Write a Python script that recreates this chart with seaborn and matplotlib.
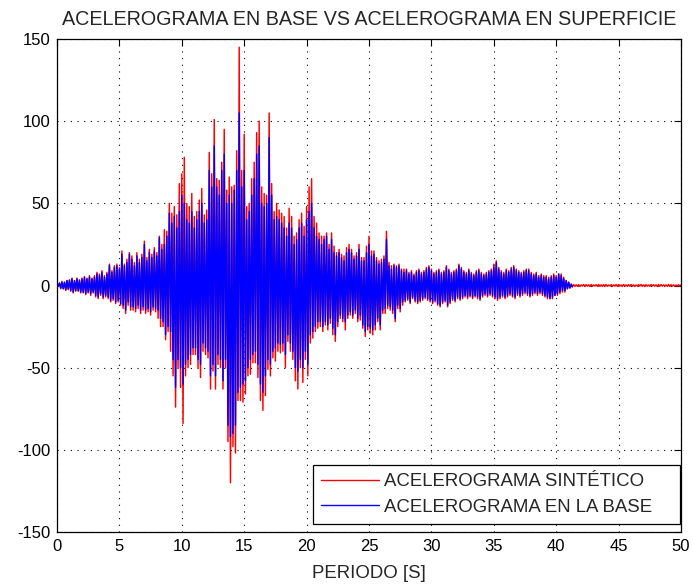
import numpy as np
import pandas as pd
import matplotlib
matplotlib.use("Agg")
import matplotlib.pyplot as plt
import seaborn as sns

# ---------------- data ----------------
half_step = 0.1  # seconds between a peak and the following trough

base_peaks = [
    0.5, 1.5, 2, 2, 3,
    3, 4, 3, 4, 3,
    4, 5, 4, 5, 4,
    5, 7, 6, 8, 5,
    7, 12, 8, 11, 12,
    10, 19, 12, 14, 19,
    16, 12, 18, 14, 17,
    25, 15, 20, 17, 21,
    18, 29, 22, 25, 30,
    44, 38, 42, 35, 45,
    55, 50, 40, 38, 45,
    35, 40, 45, 50, 38,
    40, 70, 60, 85, 60,
    55, 70, 80, 50, 55,
    50, 58, 70, 105, 60,
    70, 40, 45, 55, 65,
    80, 85, 50, 48, 50,
    90, 55, 40, 42, 40,
    38, 35, 30, 38, 35,
    25, 28, 35, 38, 30,
    40, 45, 50, 35, 30,
    28, 25, 28, 30, 22,
    28, 20, 18, 20, 17,
    15, 20, 22, 20, 16,
    18, 22, 15, 15, 20,
    25, 18, 19, 15, 13,
    14, 16, 28, 12, 10,
    12, 11, 12, 9, 8,
    9, 7, 8, 6, 8,
    9, 7, 8, 10, 11,
    9, 7, 8, 9, 7,
    8, 11, 9, 7, 8,
    9, 12, 10, 8, 7,
    9, 7, 6, 8, 9,
    7, 6, 7, 8, 9,
    11, 14, 10, 8, 7,
    9, 8, 10, 11, 9,
    8, 7, 8, 9, 9,
    7, 6, 7, 5, 6,
    5, 5, 4, 5, 6,
    5, 7, 6, 4, 3,
    2, 0.8,
]
base_troughs = [
    -0.5, -1.5, -2, -2.5, -2,
    -3, -4, -3, -3, -4,
    -4, -5, -4, -5, -4,
    -6, -7, -5, -7, -6,
    -7, -9, -8, -10, -9,
    -11, -12, -15, -10, -13,
    -13, -14, -12, -15, -13,
    -15, -14, -16, -13, -14,
    -15, -20, -22, -30, -25,
    -28, -45, -62, -45, -50,
    -60, -48, -45, -42, -38,
    -38, -45, -48, -35, -38,
    -40, -55, -48, -55, -42,
    -45, -58, -45, -85, -92,
    -90, -85, -65, -62, -60,
    -58, -50, -45, -42, -40,
    -48, -60, -65, -55, -45,
    -48, -40, -38, -35, -36,
    -35, -42, -30, -35, -40,
    -50, -52, -45, -50, -40,
    -48, -30, -28, -25, -22,
    -22, -25, -22, -24, -20,
    -26, -30, -22, -18, -20,
    -22, -18, -16, -18, -15,
    -20, -18, -24, -28, -25,
    -26, -27, -24, -20, -24,
    -15, -14, -12, -13, -15,
    -20, -12, -14, -10, -9,
    -8, -10, -7, -9, -10,
    -9, -8, -7, -8, -9,
    -10, -9, -11, -12, -10,
    -9, -12, -10, -8, -9,
    -7, -8, -7, -6, -7,
    -6, -7, -6, -7, -8,
    -6, -5, -6, -5, -6,
    -7, -8, -7, -6, -7,
    -6, -5, -6, -7, -5,
    -6, -5, -4, -5, -6,
    -5, -4, -5, -4, -5,
    -6, -7, -8, -7, -6,
    -5, -4, -3, -3, -2,
    -1.5, -0.8,
]

synth_peaks = [
    0.5, 1.5, 2.5, 2, 3,
    3.5, 4.5, 3, 4.5, 3.5,
    4.5, 5.5, 4.5, 6, 4.5,
    6, 8, 7, 9, 6,
    8, 13, 9, 12, 13,
    11, 21, 13, 16, 20,
    18, 14, 20, 16, 19,
    27, 17, 22, 19, 23,
    20, 30, 25, 34, 33,
    50, 44, 48, 43, 62,
    68, 78, 50, 48, 56,
    42, 45, 52, 59, 43,
    46, 81, 68, 101, 65,
    64, 75, 95, 58, 66,
    60, 61, 82, 145, 70,
    92, 48, 50, 65, 75,
    93, 100, 60, 56, 55,
    105, 62, 45, 50, 46,
    44, 42, 35, 47, 42,
    30, 32, 40, 44, 36,
    48, 60, 65, 42, 38,
    32, 30, 30, 32, 25,
    32, 24, 20, 22, 19,
    18, 23, 25, 22, 18,
    20, 25, 17, 17, 24,
    30, 21, 21, 17, 15,
    16, 18, 33, 14, 12,
    13, 12, 13, 10, 10,
    10, 8, 9, 7, 9,
    10, 8, 9, 11, 12,
    10, 8, 9, 10, 8,
    9, 12, 10, 8, 9,
    10, 13, 11, 9, 8,
    10, 8, 7, 9, 10,
    8, 7, 8, 9, 10,
    13, 15, 11, 9, 8,
    10, 9, 11, 12, 10,
    9, 8, 9, 10, 10,
    8, 7, 8, 6, 7,
    6, 6, 5, 6, 7,
    6, 7, 7, 5, 3,
    2, 0.8,
    0.6, 0.4, 0.5, 0.3, 0.6, 0.5, 0.4, 0.6, 0.3, 0.5, 0.6,
    0.4, 0.5, 0.6, 0.3, 0.5, 0.4, 0.6, 0.5, 0.3, 0.6, 0.4,
    0.5, 0.6, 0.4, 0.3, 0.5, 0.6, 0.4, 0.5, 0.3, 0.6, 0.5,
    0.4, 0.6, 0.5, 0.3, 0.4, 0.6, 0.5, 0.4, 0.3, 0.5, 0.4,
]
synth_troughs = [
    -0.5, -2, -2, -3, -2.5,
    -3.5, -4.5, -3.5, -3.5, -4.5,
    -4.5, -5.5, -4.5, -6, -4.5,
    -7, -8, -6, -8, -7,
    -8, -10, -9, -11, -10,
    -12, -14, -17, -12, -15,
    -15, -16, -14, -17, -15,
    -17, -16, -18, -15, -16,
    -20, -25, -25, -33, -28,
    -40, -55, -74, -50, -62,
    -84, -55, -50, -48, -42,
    -42, -50, -56, -40, -42,
    -44, -63, -52, -63, -48,
    -50, -63, -50, -95, -120,
    -98, -102, -70, -70, -71,
    -66, -55, -54, -47, -47,
    -56, -70, -76, -67, -51,
    -55, -44, -46, -40, -41,
    -40, -50, -34, -40, -45,
    -58, -63, -50, -59, -45,
    -55, -35, -32, -28, -26,
    -25, -28, -24, -27, -23,
    -30, -34, -25, -20, -22,
    -27, -20, -18, -20, -17,
    -22, -21, -26, -31, -27,
    -29, -30, -27, -22, -27,
    -17, -17, -14, -15, -17,
    -22, -14, -16, -12, -10,
    -9, -11, -8, -10, -11,
    -10, -9, -8, -9, -10,
    -11, -10, -12, -13, -11,
    -10, -13, -11, -9, -10,
    -8, -9, -8, -7, -8,
    -7, -8, -7, -8, -9,
    -7, -6, -7, -6, -7,
    -8, -9, -8, -7, -8,
    -7, -6, -7, -8, -6,
    -7, -6, -5, -6, -7,
    -6, -5, -6, -5, -6,
    -7, -8, -8, -8, -6,
    -6, -5, -4, -4, -2,
    -1.5, -0.8,
    -0.5, -0.4, -0.6, -0.3, -0.5, -0.4, -0.6, -0.5, -0.3, -0.4, -0.5,
    -0.6, -0.4, -0.5, -0.3, -0.6, -0.4, -0.5, -0.4, -0.6, -0.3, -0.5,
    -0.4, -0.5, -0.6, -0.3, -0.4, -0.5, -0.6, -0.4, -0.5, -0.3, -0.4,
    -0.6, -0.5, -0.4, -0.3, -0.5, -0.6, -0.4, -0.5, -0.3, -0.4, -0.5,
]

series_names = ["ACELEROGRAMA SINTÉTICO", "ACELEROGRAMA EN LA BASE"]
series_colors = ["#ff0000", "#0000ff"]
title_text = "ACELEROGRAMA EN BASE VS ACELEROGRAMA EN SUPERFICIE"
xlabel_text = "PERIODO [S]"
x_ticks = [0, 5, 10, 15, 20, 25, 30, 35, 40, 45, 50]
y_ticks = [-150, -100, -50, 0, 50, 100, 150]


def build(peaks, troughs, name):
    vals = np.column_stack([peaks, troughs]).ravel()
    t = np.arange(len(vals)) * half_step
    return pd.DataFrame({"t": t, "a": vals, "serie": name})


df = pd.concat([
    build(synth_peaks, synth_troughs, series_names[0]),
    build(base_peaks, base_troughs, series_names[1]),
], ignore_index=True)

# ---------------- plotting ----------------
sns.set_style("white")
plt.rcParams["font.family"] = ["Liberation Sans", "DejaVu Sans"]

fig = plt.figure(figsize=(6.93, 5.85), dpi=100)
ax = fig.add_axes([57 / 693, 1 - 532 / 585, (681 - 57) / 693, (532 - 39) / 585])

sns.lineplot(data=df, x="t", y="a", hue="serie", hue_order=series_names,
             palette=series_colors, estimator=None, sort=False,
             linewidth=1.05, ax=ax)

ax.set_xlim(0, 50)
ax.set_ylim(-150, 150)
ax.set_xticks(x_ticks)
ax.set_yticks(y_ticks)
ax.set_xticklabels([str(v) for v in x_ticks], fontsize=12)
ax.set_yticklabels([str(v) for v in y_ticks], fontsize=12)
ax.tick_params(direction="in", top=True, right=True, length=5, width=0.8,
               pad=5, colors="black")
ax.grid(True, color="black", linestyle=(0, (1, 5)), linewidth=0.8)
for s in ax.spines.values():
    s.set_color("black")
    s.set_linewidth(0.9)

ax.set_title(title_text, fontsize=14.2, pad=10)
ax.set_xlabel(xlabel_text, fontsize=13.4, labelpad=8)
ax.set_ylabel("")

leg = ax.legend(loc="lower left", bbox_to_anchor=(0.410, 0.016, 0.588, 0.1),
                mode="expand", fontsize=13.4, frameon=True, fancybox=False,
                framealpha=1, edgecolor="black", handlelength=3.1,
                handletextpad=0.3, borderpad=0.45, labelspacing=0.45,
                borderaxespad=0)
leg.get_frame().set_linewidth(0.9)
for line in leg.get_lines():
    line.set_linewidth(1.0)

fig.savefig("out.png", dpi=100)
